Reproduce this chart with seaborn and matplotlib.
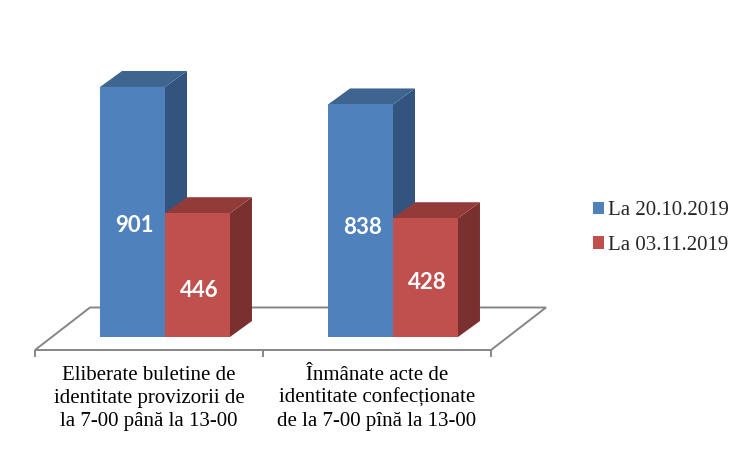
import pandas as pd
import seaborn as sns
import matplotlib.pyplot as plt
from matplotlib.patches import Polygon
from matplotlib.transforms import Affine2D, IdentityTransform

# Valorile din grafic
categorii = ['Eliberate buletine de\nidentitate provizorii de\nla 7-00 până la 13-00',
             'Înmânate acte de\nidentitate confecționate\nde la 7-00 pînă la 13-00']
serii = ['La 20.10.2019', 'La 03.11.2019']
valori_1 = [901, 838]
valori_2 = [446, 428]

df = pd.DataFrame({
    'categorie': categorii * 2,
    'serie': [serii[0]] * 2 + [serii[1]] * 2,
    'valoare': valori_1 + valori_2,
})

W, H = 750, 450
culori = ['#4F81BD', '#C0504D']
culori_sus = ['#3E6590', '#923B39']
culori_lat = ['#32547E', '#7A302F']
dx, dy = 22, 16  # adancimea barelor, in pixeli

sns.set_theme(style='white')
fig = plt.figure(figsize=(W / 100, H / 100), dpi=100)
ax = fig.add_axes([51 / W, (H - 337) / H, 456 / W, 277.5 / H])

sns.barplot(data=df, x='categorie', y='valoare', hue='serie',
            palette=culori, width=0.57, gap=0, saturation=1, linewidth=0, ax=ax)
ax.set_xlim(-0.5, 1.5)
ax.set_ylim(0, 1000)
ax.set_xlabel('')
ax.set_ylabel('')
ax.set_xticks([])
ax.set_yticks([])
sns.despine(ax=ax, left=True, bottom=True)

# Podeaua graficului
fata = ax.transData + Affine2D().translate(-16, -13)
spate = ax.transData + Affine2D().translate(39, 29.5)
gri = '#868686'
st_f, dr_f = fata.transform([(-0.5, 0), (1.5, 0)])
st_s, dr_s = spate.transform([(-0.5, 0), (1.5, 0)])
ax.add_patch(Polygon([st_f, dr_f, dr_s, st_s], closed=True, facecolor='white', edgecolor=gri,
                     linewidth=1.4, transform=IdentityTransform(), zorder=1, clip_on=False))
for x in [-0.5, 0.5, 1.5]:
    ax.plot([x], [0], transform=fata, marker=3, markersize=5, color=gri,
            markeredgewidth=1.4, zorder=1, clip_on=False)

# Fetele laterale si de sus ale barelor
for i, container in enumerate(ax.containers):
    for bar in container:
        x0, y0 = ax.transData.transform((bar.get_x(), 0))
        x1, y1 = ax.transData.transform((bar.get_x() + bar.get_width(), bar.get_height()))
        z = 2 + 3 * i
        ax.add_patch(Polygon([(x1, y0), (x1 + dx, y0 + dy), (x1 + dx, y1 + dy), (x1, y1)],
                             facecolor=culori_lat[i], edgecolor='none',
                             transform=IdentityTransform(), zorder=z, clip_on=False))
        ax.add_patch(Polygon([(x0, y1), (x1, y1), (x1 + dx, y1 + dy), (x0 + dx, y1 + dy)],
                             facecolor=culori_sus[i], edgecolor='none',
                             transform=IdentityTransform(), zorder=z, clip_on=False))
        bar.set_zorder(z + 1)
        bar.set_clip_on(False)

# Etichetele de pe bare
deplasari = [[-14, -7], [-15, -5]]
for i, container in enumerate(ax.containers):
    for j, bar in enumerate(container):
        ax.annotate(f'{bar.get_height():.0f}',
                    (bar.get_x() + bar.get_width() / 2, bar.get_height() / 2),
                    xytext=(1.5, deplasari[i][j] * 0.72), textcoords='offset points',
                    ha='center', va='center', color='white', fontsize=16,
                    fontweight='bold', family='Lato', zorder=10)

# Etichetele categoriilor
for j, text in enumerate(categorii):
    x, y = fata.transform((j, 0))
    ax.annotate(text, (x, y), xycoords=IdentityTransform(), xytext=(0, -11.5),
                textcoords='offset points', ha='center', va='top', fontsize=15,
                family='Liberation Serif', color='black', linespacing=1.28,
                annotation_clip=False)

# Legenda
handles, labels = ax.get_legend_handles_labels()
ax.legend(handles, labels, loc='center left', bbox_to_anchor=(593 / W, (H - 228) / H),
          bbox_transform=fig.transFigure, frameon=False, handlelength=0.52, handleheight=0.52,
          handletextpad=0.2, labelspacing=0.75, borderpad=0, borderaxespad=0,
          prop={'family': 'Liberation Serif', 'size': 15})

plt.savefig('out.png', dpi=100)
